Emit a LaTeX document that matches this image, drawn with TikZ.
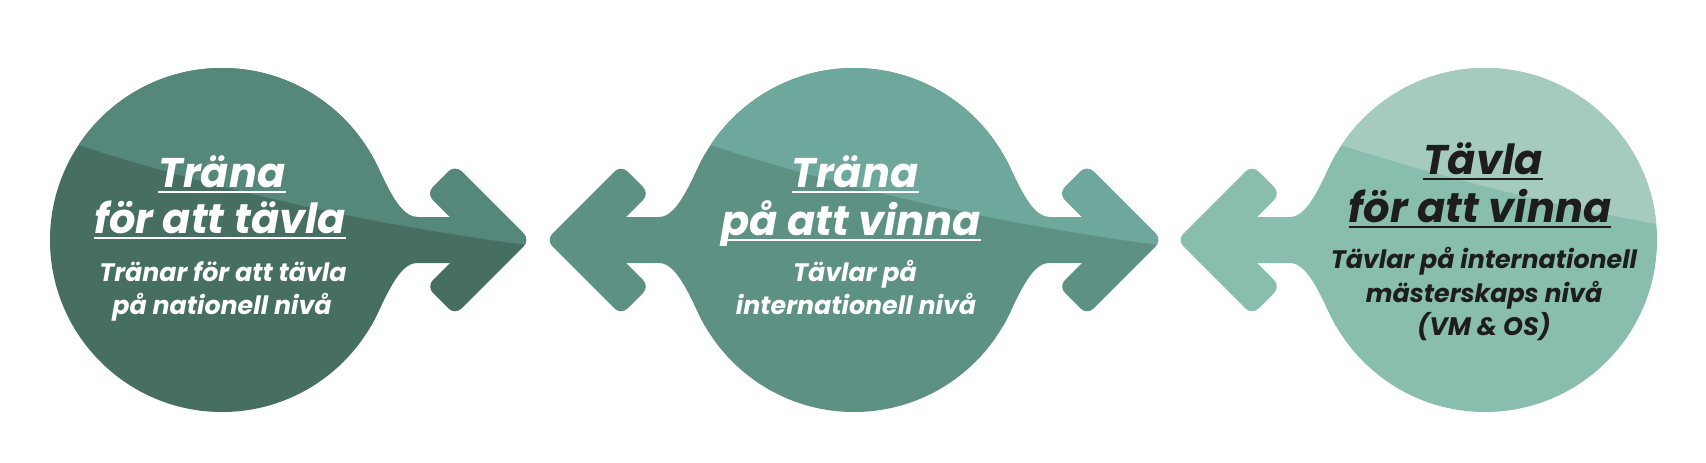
\documentclass[tikz,border=0pt]{standalone}
\usepackage{fontspec}
\setmainfont{Poppins}
\definecolor{aL}{HTML}{55877A}
\definecolor{aD}{HTML}{466F62}
\definecolor{bL}{HTML}{6EA89D}
\definecolor{bD}{HTML}{5D9183}
\definecolor{cL}{HTML}{A5CBBF}
\definecolor{cD}{HTML}{89BEAE}
\definecolor{ink}{HTML}{1D1D1B}
\newcommand\myrarr[2]{%
 \fill[#2] (#1,240) -- ({#1+149},154) .. controls ({#1+161.5},175.6) and ({#1+175},217) .. ({#1+195},217) -- ({#1+250},217) -- ({#1+250},263) -- ({#1+195},263) .. controls ({#1+175},263) and ({#1+161.5},304.4) .. ({#1+149},326) -- cycle;
 \fill[#2, rounded corners=9pt] ({#1+204.5},193.5) -- ({#1+233},165) -- ({#1+308},240) -- ({#1+233},315) -- ({#1+204.5},286.5) -- ({#1+238},253) -- ({#1+238},227) -- cycle;
}
\newcommand\mylarr[2]{%
 \fill[#2] (#1,240) -- ({#1-149},154) .. controls ({#1-161.5},175.6) and ({#1-175},217) .. ({#1-195},217) -- ({#1-250},217) -- ({#1-250},263) -- ({#1-195},263) .. controls ({#1-175},263) and ({#1-161.5},304.4) .. ({#1-149},326) -- cycle;
 \fill[#2, rounded corners=9pt] ({#1-204.5},193.5) -- ({#1-233},165) -- ({#1-308},240) -- ({#1-233},315) -- ({#1-204.5},286.5) -- ({#1-238},253) -- ({#1-238},227) -- cycle;
}
\newcommand\mydisc[2]{\fill[#2] (#1,240) circle[radius=172pt];}
\newcommand\myband[1]{\clip ({#1-204},126) -- ({#1-144},145) .. controls ({#1+2},191.7) and ({#1+151.7},225) .. ({#1+305},245) -- ({#1+400},257) -- ({#1+400},0) -- ({#1-204},0) -- cycle;}
\begin{document}
\begin{tikzpicture}[x=1pt,y=-1pt,
  ttl/.style={font=\fontsize{41.5pt}{46pt}\selectfont\bfseries\itshape, anchor=base, inner sep=0pt},
  sub/.style={font=\fontsize{25.3pt}{32pt}\selectfont\bfseries\itshape, anchor=base, inner sep=0pt},
  ul/.style={line width=2pt}]
\fill[white] (0,0) rectangle (1706,463);
\useasboundingbox (0,0) rectangle (1706,463);
% shape 1
\mydisc{222}{aD}\myrarr{222}{aD}
\begin{scope}\myband{222}\mydisc{222}{aL}\myrarr{222}{aL}\end{scope}
% shape 2
\mydisc{854}{bD}\myrarr{854}{bD}\mylarr{854}{bD}
\begin{scope}\myband{854}\mydisc{854}{bL}\myrarr{854}{bL}\mylarr{854}{bL}\end{scope}
% shape 3
\mydisc{1485}{cD}\mylarr{1485}{cD}
\begin{scope}\myband{1485}\mydisc{1485}{cL}\mylarr{1485}{cL}\end{scope}
% texts 1
\node[ttl, text=white] (a1) at (222,187) {Träna\ };
\node[ttl, text=white] (a2) at (220,233) {för att tävla};
\draw[ul, white] ([yshift=-5pt]a1.base west) -- ([yshift=-5pt]a1.base east);
\draw[ul, white] ([yshift=-5pt]a2.base west) -- ([yshift=-5pt]a2.base east);
\node[sub, text=white] (a3) at (223,281.5) {Tränar för att tävla};
\node[sub, text=white] (a4) at (222,314.5) {på nationell nivå};
% texts 2
\node[ttl, text=white] (b1) at (855,187) {Träna\ };
\node[ttl, text=white] (b2) at (851,235) {på att vinna};
\draw[ul, white] ([yshift=-5pt]b1.base west) -- ([yshift=-5pt]b1.base east);
\draw[ul, white] ([yshift=-5pt]b2.base west) -- ([yshift=-5pt]b2.base east);
\node[sub, text=white] (b3) at (855,281.5) {Tävlar på};
\node[sub, text=white] (b4) at (856,314.5) {internationell nivå};
% texts 3
\node[ttl, text=ink] (c1) at (1483,174) {Tävla\ };
\node[ttl, text=ink] (c2) at (1480,222) {för att vinna};
\draw[ul, ink] ([yshift=-5pt]c1.base west) -- ([yshift=-5pt]c1.base east);
\draw[ul, ink] ([yshift=-5pt]c2.base west) -- ([yshift=-5pt]c2.base east);
\node[sub, text=ink] (c3) at (1484,268) {Tävlar på internationell};
\node[sub, text=ink] (c4) at (1484,302) {mästerskaps nivå};
\node[sub, text=ink] (c5) at (1484,335) {(VM \& OS)};
\end{tikzpicture}
\end{document}
